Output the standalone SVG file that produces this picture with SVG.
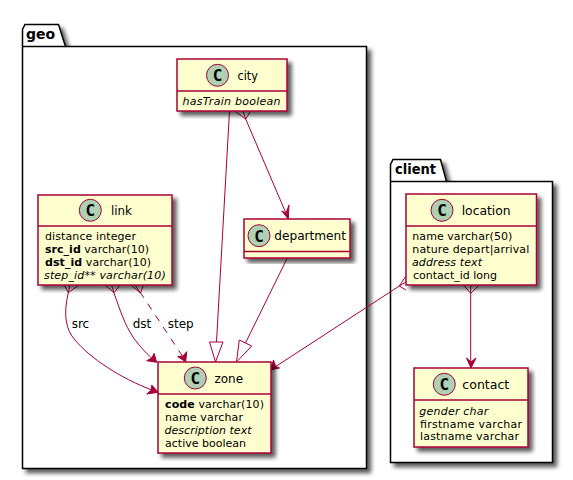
<svg xmlns="http://www.w3.org/2000/svg" width="573" height="480" viewBox="0 0 573 480">
<style>
text{font-family:"DejaVu Sans",sans-serif;fill:#000}
.pkg{fill:#fff;stroke:#000;stroke-width:1.5}
.box{fill:#FEFECE;stroke:#A80036;stroke-width:1.5}
.div{stroke:#A80036;stroke-width:1.5;fill:none}
.spot{fill:#ADD1B2;stroke:#A80036;stroke-width:1}
.c{font-family:"DejaVu Sans Mono",monospace;font-size:16px;font-weight:bold;text-anchor:middle}
.n{font-size:12.500px}
.m{font-size:11px}
.i{font-style:italic}
.b{font-weight:bold}
.pt{font-size:14px;font-weight:bold}
.l{fill:none;stroke:#A80036;stroke-width:1}
.h{fill:#A80036;stroke:#A80036;stroke-width:1}
.t{fill:#fff;stroke:#A80036;stroke-width:1}
.lb{font-size:12px}
</style>
<defs>
<filter id="sh" x="-10%" y="-10%" width="125%" height="125%"><feGaussianBlur in="SourceAlpha" stdDeviation="2"/><feOffset dx="4" dy="4"/><feComponentTransfer><feFuncA type="linear" slope="0.65"/></feComponentTransfer><feMerge><feMergeNode/><feMergeNode in="SourceGraphic"/></feMerge></filter>
</defs>
<g id="pkg-geo">
<path class="pkg" filter="url(#sh)" d="M22.500 46.500V29.500L25 24.500H58.500L65.500 46.500H366.500V468.500H22.500Z"/>
<path class="pkg" style="fill:none" d="M22.500 46.500H65.500"/>
<text class="pt" x="26" y="39">geo</text>
</g>
<g id="pkg-client">
<path class="pkg" filter="url(#sh)" d="M390.500 181.500V164.500L393 159.500H440.500L446.500 181.500H552.500V462.500H390.500Z"/>
<path class="pkg" style="fill:none" d="M390.500 181.500H446.500"/>
<text class="pt" x="395" y="174" textLength="41" lengthAdjust="spacingAndGlyphs">client</text>
</g>
<g id="connectors">
<path class="l" d="M229.500 111L216.500 342"/><polygon class="t" points="209.500,342 223,342 215.500,362"/>
<path class="l" d="M245.700 119L288 218"/>
<path class="l" d="M234.700 111L245.700 119 250.700 111M245.700 119L243 111"/><polygon class="h" points="288.300,219 281.700,211 286,213 289,205"/>
<path class="l" d="M287.300 258L245.500 343"/><polygon class="t" points="236.500,362 239.300,340 251.700,346"/>
<path class="l" d="M68.300 292.700C63 315 66 330 75 340C90 358 120 378 152 390"/><path class="l" d="M64.300 285L68.300 292.700 79 285M68.300 292.700L70 285"/><polygon class="h" points="158.300,392.300 146.700,394 151.500,390 151.700,385"/>
<path class="l" d="M114 293C120 310 125 325 133 337C140 347 148 355 155 361"/><path class="l" d="M105 285L114 292.700 120 285M114 292.700L111.500 285"/><polygon class="h" points="156.700,362.300 146.700,360.700 152,358 154,353.300"/>
<path class="l" stroke-dasharray="7,7" d="M140 292L183 357"/><path class="l" d="M131 285L140.500 293 143.300 285M140.500 293L135 285"/><polygon class="h" points="185.700,361.700 177.700,356.700 183,356 186.700,351.700"/>
<path class="l" d="M399.300 286L275 367"/><path class="l" d="M406 276L399.300 286 406 290M399.300 286L406 282"/><polygon class="h" points="270.500,370 273.500,360 275.500,366.500 279.500,368"/>
<path class="l" d="M470.700 293.300V362"/><path class="l" d="M463.300 285L470.700 293.300 479.300 285M470.700 293.300V285"/><polygon class="h" points="471,368 466.500,358 471,362 476,358"/>
</g>
<g id="city">
<rect class="box" filter="url(#sh)" x="177" y="59" width="110" height="52"/><path class="div" d="M177 91H287"/>
<circle class="spot" cx="217.500" cy="75.300" r="11"/><text class="c" x="217.500" y="81">C</text>
<text class="n" x="237.500" y="79.500" textLength="20.500" lengthAdjust="spacingAndGlyphs">city</text>
<text class="m i" x="182.500" y="105" textLength="98">hasTrain boolean</text>
</g>
<g id="link">
<rect class="box" filter="url(#sh)" x="38" y="195" width="134" height="90"/><path class="div" d="M38 226H172"/>
<circle class="spot" cx="90.300" cy="210.300" r="11"/><text class="c" x="90.300" y="216">C</text>
<text class="n" x="111" y="214.500" textLength="21" lengthAdjust="spacingAndGlyphs">link</text>
<text class="m" x="45" y="240" textLength="91">distance integer</text>
<text class="m" x="45" y="253" textLength="104"><tspan class="b">src_id</tspan> varchar(10)</text>
<text class="m" x="45" y="266" textLength="106"><tspan class="b">dst_id</tspan> varchar(10)</text>
<text class="m i" x="44" y="279" textLength="121.700">step_id** varchar(10)</text>
</g>
<g id="department">
<rect class="box" filter="url(#sh)" x="244" y="219" width="106" height="39"/><path class="div" d="M244 251.500H350"/>
<circle class="spot" cx="259" cy="235.700" r="11"/><text class="c" x="259" y="241.500">C</text>
<text class="n" x="274.300" y="240" textLength="71.700" lengthAdjust="spacingAndGlyphs">department</text>
</g>
<g id="zone">
<rect class="box" filter="url(#sh)" x="158" y="362" width="113" height="91"/><path class="div" d="M158 394H271"/>
<circle class="spot" cx="195.300" cy="378" r="11"/><text class="c" x="195.300" y="384">C</text>
<text class="n" x="214.500" y="382.500" textLength="28.600" lengthAdjust="spacingAndGlyphs">zone</text>
<text class="m" x="165" y="408" textLength="99"><tspan class="b">code</tspan> varchar(10)</text>
<text class="m" x="165" y="421" textLength="78">name varchar</text>
<text class="m i" x="164.500" y="434" textLength="87">description text</text>
<text class="m" x="165" y="447" textLength="81">active boolean</text>
</g>
<g id="location">
<rect class="box" filter="url(#sh)" x="406" y="194" width="130.500" height="91"/><path class="div" d="M406 226H536.500"/>
<circle class="spot" cx="442" cy="210.300" r="11"/><text class="c" x="442" y="216">C</text>
<text class="n" x="461.700" y="214.500" textLength="49" lengthAdjust="spacingAndGlyphs">location</text>
<text class="m" x="412.300" y="240" textLength="100">name varchar(50)</text>
<text class="m" x="412.300" y="253" textLength="117">nature depart|arrival</text>
<text class="m i" x="412" y="266" textLength="70">address text</text>
<text class="m" x="413" y="279" textLength="84">contact_id long</text>
</g>
<g id="contact">
<rect class="box" filter="url(#sh)" x="414" y="368" width="114" height="79"/><path class="div" d="M414 400H528"/>
<circle class="spot" cx="444.300" cy="384.300" r="11"/><text class="c" x="444.300" y="390">C</text>
<text class="n" x="462.300" y="389" textLength="47" lengthAdjust="spacingAndGlyphs">contact</text>
<text class="m i" x="419.300" y="415" textLength="69">gender char</text>
<text class="m" x="420" y="428" textLength="102">firstname varchar</text>
<text class="m" x="420" y="440" textLength="99">lastname varchar</text>
</g>
<g id="labels">
<text class="lb" x="71.700" y="327.700">src</text>
<text class="lb" x="132.700" y="327.700">dst</text>
<text class="lb" x="167.700" y="327.700">step</text>
</g>
</svg>
